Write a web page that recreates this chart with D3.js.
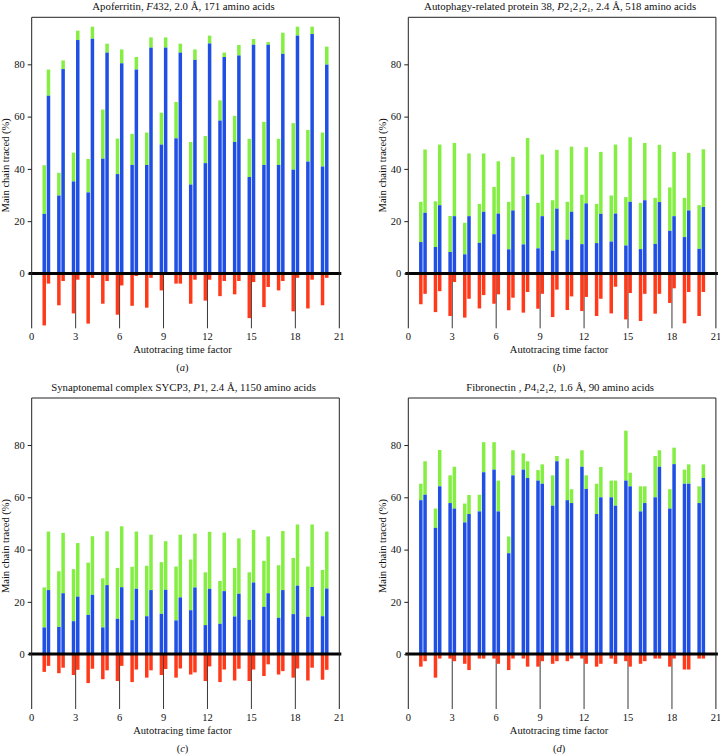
<!DOCTYPE html>
<html>
<head>
<meta charset="utf-8">
<script src="https://cdn.jsdelivr.net/npm/d3@7"></script>
<style>
  html, body { margin: 0; padding: 0; background: #fff; }
  svg { display: block; }
  text { font-family: "Liberation Serif", "DejaVu Serif", serif; fill: #111; }
</style>
</head>
<body>
<svg id="chart" width="720" height="754"></svg>
<script>
// ---------------- DATA ----------------
const timeFactors = d3.range(1, 21);
const xTicks = [0, 3, 6, 9, 12, 15, 18, 21];
const yTicks = [0, 20, 40, 60, 80];
const panelLetters = ["a", "b", "c", "d"];

// Panel (a) Apoferritin
const aBlueL  = [22.8,29.8,35.2,31.0,43.9,38.0,41.5,41.5,49.3,51.7,34.0,42.2,58.5,50.3,36.9,41.5,41.5,39.7,42.8,40.9];
const aGreenL = [41.4,38.5,46.2,43.8,62.7,51.6,53.4,53.9,61.5,65.6,50.3,52.6,66.2,60.3,51.5,58.0,51.5,57.5,54.9,53.9];
const aBlueR  = [68.0,78.2,89.3,89.8,84.5,80.4,78.0,86.4,86.4,84.5,81.7,88.0,82.8,83.4,87.5,87.5,84.0,91.0,91.6,79.9];
const aGreenR = [78.0,81.5,92.9,94.4,87.9,85.7,82.8,90.3,90.3,87.9,85.7,91.0,84.5,87.4,89.7,88.5,92.1,94.4,94.4,86.8];
const aRedL   = [-19.9,-12.2,-15.3,-19.2,-11.6,-15.8,-12.4,-13.1,-6.5,-3.9,-11.6,-10.4,-8.7,-8.0,-17.1,-12.9,-6.5,-14.5,-13.4,-12.2];
const aRedR   = [-3.9,-2.9,-2.4,-1.7,-2.9,-4.6,-1.0,-1.7,-0.5,-3.9,-2.4,-2.4,-2.9,-2.9,-3.3,-5.2,-2.9,-1.7,-2.4,-1.7];

// Panel (b) Autophagy-related protein 38
const bBlueL  = [12.0,10.1,8.2,7.3,11.7,15.0,9.2,11.1,9.6,8.7,12.9,11.2,11.6,12.2,10.7,9.3,11.3,16.3,13.9,9.4];
const bGreenL = [27.4,27.6,22.0,19.4,26.6,33.1,27.4,29.6,27.0,28.0,27.4,30.1,26.6,29.8,29.2,27.0,28.9,32.9,28.9,26.1];
const bBlueR  = [23.2,26.1,21.9,21.9,23.6,22.9,24.1,30.2,21.9,24.8,23.6,26.8,22.8,22.9,27.4,28.0,27.3,21.9,24.1,25.4];
const bGreenR = [47.4,49.3,49.9,45.9,45.9,42.9,44.6,51.8,45.5,47.3,48.5,48.3,46.5,49.3,52.1,49.9,49.2,46.5,46.1,47.5];
const bRedL   = [-11.8,-14.8,-16.3,-16.9,-13.4,-11.6,-14.1,-15.0,-13.5,-16.7,-14.0,-14.4,-16.3,-15.3,-17.6,-18.2,-15.4,-11.3,-19.1,-16.3];
const bRedR   = [-7.8,-6.8,-3.3,-9.7,-8.3,-8.0,-9.3,-7.1,-7.8,-6.2,-8.8,-9.0,-9.7,-5.1,-7.5,-7.8,-7.8,-5.7,-7.1,-7.1];

// Panel (c) Synaptonemal complex SYCP3
const cBlueL  = [10.2,10.4,12.6,15.0,10.2,13.5,13.0,14.5,15.4,12.9,16.8,11.1,11.6,14.4,13.1,18.1,13.9,15.3,14.3,14.5];
const cGreenL = [25.5,31.7,32.5,35.0,29.0,33.0,33.4,33.8,35.2,33.5,36.2,31.3,28.0,33.0,31.3,35.7,34.0,36.8,33.5,32.2];
const cBlueR  = [24.5,23.3,22.0,22.7,26.4,25.6,25.0,24.5,24.6,21.7,25.5,25.0,24.1,23.1,27.4,23.3,24.5,26.2,25.7,25.1];
const cGreenR = [46.9,46.4,42.5,45.1,47.0,48.9,46.9,45.7,43.2,45.7,46.1,46.8,46.5,44.3,47.5,45.0,47.1,49.6,49.6,46.9];
const cRedL   = [-6.8,-7.3,-8.0,-11.1,-9.6,-10.3,-10.7,-9.0,-8.0,-9.0,-7.8,-10.3,-10.7,-10.1,-10.3,-8.4,-7.8,-9.0,-10.1,-9.8];
const cRedR   = [-4.5,-5.2,-6.0,-5.6,-6.2,-4.5,-5.9,-6.2,-5.7,-5.5,-7.0,-4.7,-5.9,-5.6,-5.9,-3.9,-6.5,-5.5,-5.2,-6.0];

// Panel (d) Fibronectin
const dBlueL  = [58.9,48.3,57.8,50.4,54.6,70.6,38.6,70.6,66.4,56.8,58.9,71.7,53.6,60.0,66.4,54.6,60.0,55.7,65.2,57.8];
const dGreenL = [65.2,55.7,68.4,57.6,61.0,81.1,45.0,76.8,70.4,68.4,74.8,78.0,65.2,66.4,85.5,64.2,75.8,63.1,70.6,64.2];
const dBlueR  = [61.0,64.2,55.7,53.6,69.6,54.6,68.4,67.4,65.2,73.8,57.8,63.2,60.0,56.8,64.2,57.8,71.7,72.7,65.2,67.4];
const dGreenR = [73.8,78.1,71.7,60.9,81.1,66.4,78.0,73.8,72.6,75.8,63.1,68.4,71.6,66.4,69.4,64.2,78.0,79.0,72.6,72.6];
const dRedL   = [-4.8,-9.0,-1.7,-3.7,-1.7,-1.7,-6.1,-1.7,-4.8,-3.7,-2.7,-1.7,-4.8,-1.7,-2.7,-3.7,-1.7,-4.8,-5.9,-1.7];
const dRedR   = [-2.7,-1.7,-2.7,-6.1,-1.7,-3.7,-1.7,-4.8,-2.7,-2.7,-1.7,-3.7,-3.7,-3.7,-4.8,-2.7,-1.7,-1.7,-5.9,-1.7];

// Titles: [text, style] where style: "" normal, "i" italic, "s" subscript
const titleA = [["Apoferritin, ", ""], ["F", "i"], ["432, 2.0 Å, 171 amino acids", ""]];
const titleB = [["Autophagy-related protein 38, ", ""], ["P", "i"], ["2", ""], ["1", "s"], ["2", ""], ["1", "s"], ["2", ""], ["1", "s"], [", 2.4 Å, 518 amino acids", ""]];
const titleC = [["Synaptonemal complex SYCP3, ", ""], ["P", "i"], ["1, 2.4 Å, 1150 amino acids", ""]];
const titleD = [["Fibronectin , ", ""], ["P", "i"], ["4", ""], ["1", "s"], ["2", ""], ["1", "s"], ["2, 1.6 Å, 90 amino acids", ""]];

const xLabel = "Autotracing time factor";
const yLabel = "Main chain traced (%)";

// ---------------- DRAWING ----------------
const colors = { blue: "#1f4fe3", green: "#84ee43", red: "#ff3a1a" };
const svg = d3.select("#chart");

const panels = [
  { left: 31.7, top: 17.3, title: titleA, letter: panelLetters[0], bl: aBlueL, gl: aGreenL, br: aBlueR, gr: aGreenR, rl: aRedL, rr: aRedR },
  { left: 408.3, top: 17.3, title: titleB, letter: panelLetters[1], bl: bBlueL, gl: bGreenL, br: bBlueR, gr: bGreenR, rl: bRedL, rr: bRedR },
  { left: 31.7, top: 398.0, title: titleC, letter: panelLetters[2], bl: cBlueL, gl: cGreenL, br: cBlueR, gr: cGreenR, rl: cRedL, rr: cRedR },
  { left: 408.3, top: 398.0, title: titleD, letter: panelLetters[3], bl: dBlueL, gl: dGreenL, br: dBlueR, gr: dGreenR, rl: dRedL, rr: dRedR }
];

const W = 307.6, H = 311;
const offset = 0.145, barW = 3.5;

panels.forEach(p => {
  const g = svg.append("g").attr("transform", `translate(${p.left},${p.top})`);
  const x = d3.scaleLinear().domain([0, 21]).range([0, W]);
  const y = d3.scaleLinear().domain([-21, 98]).range([H, 0]);
  const y0 = y(0);

  // long x tick lines from bottom up to zero line
  g.selectAll("line.xt").data(xTicks.slice(1, -1)).join("line")
    .attr("x1", d => x(d)).attr("x2", d => x(d))
    .attr("y1", y0).attr("y2", H)
    .attr("stroke", "#222").attr("stroke-width", 0.9);

  // bars
  const rows = timeFactors.map((t, i) => ({ t, bl: p.bl[i], gl: p.gl[i], br: p.br[i], gr: p.gr[i], rl: p.rl[i], rr: p.rr[i] }));
  const segs = [];
  rows.forEach(r => {
    [[-offset, r.bl, r.gl, r.rl], [offset, r.br, r.gr, r.rr]].forEach(([o, b, gTop, rd]) => {
      segs.push({ xc: r.t + o, v0: b, v1: gTop, c: colors.green });
      segs.push({ xc: r.t + o, v0: 0, v1: b, c: colors.blue });
      segs.push({ xc: r.t + o, v0: rd, v1: 0, c: colors.red });
    });
  });
  g.selectAll("rect.bar").data(segs).join("rect")
    .attr("x", d => x(d.xc) - barW / 2)
    .attr("width", barW)
    .attr("y", d => y(d.v1))
    .attr("height", d => Math.max(0, y(d.v0) - y(d.v1)))
    .attr("fill", d => d.c);

  // zero line
  g.append("line").attr("x1", -3).attr("x2", W + 2).attr("y1", y0).attr("y2", y0)
    .attr("stroke", "#000").attr("stroke-width", 3);

  // frame: top, left, right (no bottom)
  g.append("path")
    .attr("d", `M0,${H}V0H${W}V${H}`)
    .attr("fill", "none").attr("stroke", "#222").attr("stroke-width", 1);

  // y axis ticks + labels
  const yAxis = d3.axisLeft(y).tickValues(yTicks).tickSize(4).tickPadding(3).tickFormat(d3.format("d"));
  const ya = g.append("g").call(yAxis);
  ya.select(".domain").remove();
  ya.selectAll("line").attr("stroke", "#222");
  ya.selectAll("text").attr("font-size", 10.5).attr("font-family", "Liberation Serif").attr("fill", "#111");

  // x tick labels
  g.selectAll("text.xl").data(xTicks).join("text")
    .attr("x", d => x(d)).attr("y", H + 11.5)
    .attr("text-anchor", "middle").attr("font-size", 10.5)
    .text(d => d);

  // x axis label
  g.append("text").attr("x", W / 2 - 3).attr("y", H + 25)
    .attr("text-anchor", "middle").attr("font-size", 10.5).text(xLabel);

  // panel letter
  const lt = g.append("text").attr("x", W / 2 - 3).attr("y", H + 42.5)
    .attr("text-anchor", "middle").attr("font-size", 10.5);
  lt.append("tspan").text("(");
  lt.append("tspan").attr("font-style", "italic").text(p.letter);
  lt.append("tspan").text(")");

  // y axis label
  g.append("text")
    .attr("transform", `translate(${-22.7},${148}) rotate(-90)`)
    .attr("text-anchor", "middle").attr("font-size", 10.5).text(yLabel);

  // title
  const tt = g.append("text").attr("x", W / 2 - 2).attr("y", -7.5)
    .attr("text-anchor", "middle").attr("font-size", 10.8);
  let sub = false;
  p.title.forEach(([s, st]) => {
    const ts = tt.append("tspan").text(s);
    if (st === "i") ts.attr("font-style", "italic");
    if (st === "s") { ts.attr("font-size", 7).attr("dy", 2); sub = true; }
    else if (sub) { ts.attr("dy", -2); sub = false; }
  });
});
</script>
</body>
</html>
